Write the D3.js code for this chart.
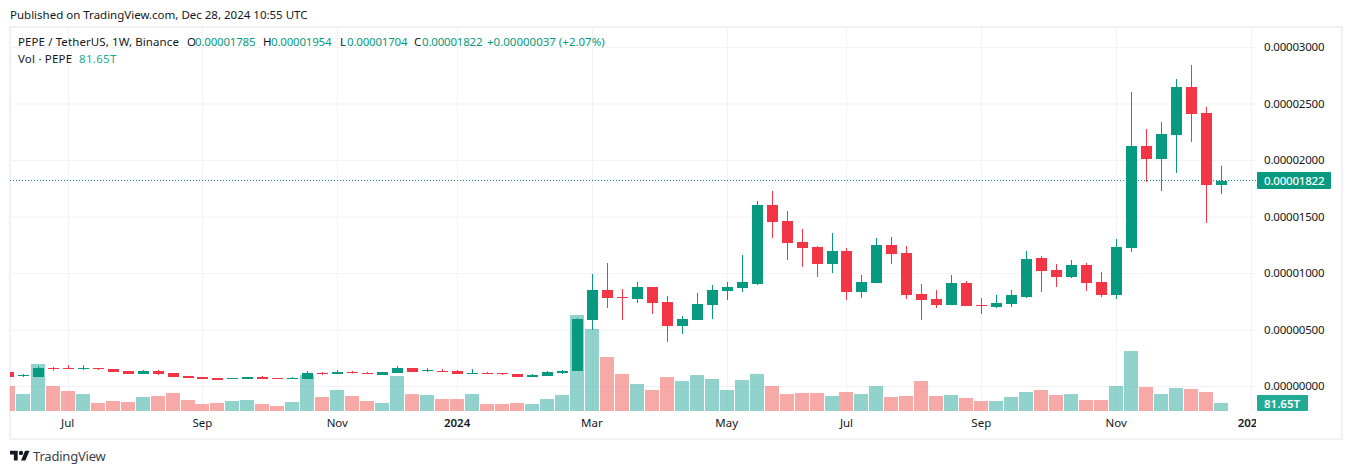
<!DOCTYPE html>
<html>
<head>
<meta charset="utf-8">
<script src="https://cdn.jsdelivr.net/npm/d3@7"></script>
<style>
  html, body { margin: 0; padding: 0; background: #fff; overflow: hidden; }
  text { font-family: "Noto Sans", sans-serif; }
</style>
</head>
<body>
<svg id="chart" width="1352" height="474"></svg>
<script>
// weekly candles, prices in units of 0.00000001
const opens = [128,100,87,164,164,155,164,155,137,111,137,119,93,84,75,66,66,84,75,66,66,119,111,128,119,102,119,164,137,137,137,111,119,119,111,84,93,119,137,588,854,792,774,881,748,535,588,721,845,872,907,1606,1465,1279,1235,1084,1199,836,916,1252,1181,819,774,721,916,721,704,730,792,1137,1031,969,1075,925,810,1226,2128,2013,2226,2651,2420,1785];
const highs = [128,111,181,173,190,188,164,155,137,146,146,119,93,84,75,72,84,93,75,84,137,128,146,137,128,128,181,164,164,155,146,155,128,119,111,111,137,146,606,996,1093,863,925,881,801,624,827,898,925,1164,1642,1730,1553,1394,1243,1358,1226,987,1314,1323,1243,907,854,987,934,783,810,854,1199,1155,1084,1119,1093,1013,1305,2606,2279,2341,2721,2845,2473,1954];
const lows = [84,84,84,140,158,146,146,128,111,111,102,84,75,66,58,66,66,66,68,66,66,102,111,115,111,102,119,128,128,130,111,111,111,102,84,84,93,111,137,500,695,588,739,642,394,465,588,597,765,836,898,1314,1119,1058,969,1004,765,783,916,1084,774,588,695,721,712,642,695,704,783,836,881,960,845,792,774,1190,1810,1730,1889,2164,1447,1704];
const closes = [84,102,164,155,158,164,155,128,111,137,111,84,75,66,58,72,84,66,68,75,119,111,128,120,111,128,164,128,146,130,111,119,111,111,84,102,128,137,597,854,783,783,881,739,535,597,730,854,881,925,1606,1456,1270,1226,1084,1199,836,925,1252,1173,810,765,721,916,712,712,739,810,1128,1022,969,1075,916,810,1235,2128,2013,2235,2651,2412,1783,1822];
// volume in trillions
const volumes = [255,173,480,255,204,173,82,102,92,143,153,184,112,71,82,102,112,71,51,92,367,143,214,153,102,82,357,173,163,122,122,173,71,71,82,71,122,163,980,837,551,378,276,214,347,306,367,327,214,316,378,255,173,184,184,153,194,173,255,143,153,306,153,163,133,102,102,143,194,214,163,173,112,112,255,612,245,173,235,225,194,82];

const priceTicks = [0,500,1000,1500,2000,2500,3000];
const timeLabels = ["Jul","Sep","Nov","2024","Mar","May","Jul","Sep","Nov","2025"];
const timeBars = [4,13,22,30,39,48,56,65,74,83];
const lastClose = 1822;
const lastVolume = "81.65T";

const upColor = "#089981", downColor = "#f23645";
const gridColor = "#f2f3f6", textColor = "#131722";
const svg = d3.select("#chart");

const x = d3.scaleLinear().domain([0, 81]).range([8.3, 1221.4]);
const y = d3.scaleLinear().domain([0, 3000]).range([386.5, 47.5]);
const yVol = d3.scaleLinear().domain([0, 1000]).range([411, 313]);
const px = i => Math.floor(x(i)) + 0.5;

svg.append("defs").append("clipPath").attr("id", "plot")
  .append("rect").attr("x", 10).attr("y", 28).attr("width", 1246).attr("height", 410);

// outer frame
svg.append("rect").attr("x", 10).attr("y", 27).attr("width", 1332).attr("height", 412)
  .attr("fill", "none").attr("stroke", "#f0f0f5").attr("stroke-width", 2);

const plot = svg.append("g").attr("clip-path", "url(#plot)");

// grid
plot.selectAll(".hgrid").data(priceTicks).join("line")
  .attr("x1", 10).attr("x2", 1256)
  .attr("y1", d => y(d)).attr("y2", d => y(d))
  .attr("stroke", gridColor);
plot.selectAll(".vgrid").data(timeBars).join("line")
  .attr("x1", d => px(d)).attr("x2", d => px(d))
  .attr("y1", 28).attr("y2", 411)
  .attr("stroke", gridColor);

// volume
plot.selectAll(".vol").data(volumes).join("rect")
  .attr("x", (d, i) => px(i) - 7.5)
  .attr("width", 14)
  .attr("y", d => yVol(d))
  .attr("height", d => 411 - yVol(d))
  .attr("fill", (d, i) => closes[i] >= opens[i] ? "rgba(38,166,154,0.5)" : "rgba(239,83,80,0.5)");

// last price line
plot.append("line")
  .attr("x1", 10).attr("x2", 1256)
  .attr("y1", Math.floor(y(lastClose)) + 0.5).attr("y2", Math.floor(y(lastClose)) + 0.5)
  .attr("stroke", upColor).attr("stroke-dasharray", "1 2").attr("shape-rendering", "crispEdges");

// candles
const candle = plot.selectAll(".candle").data(opens).join("g");
candle.append("line")
  .attr("x1", (d, i) => px(i)).attr("x2", (d, i) => px(i))
  .attr("y1", (d, i) => y(highs[i])).attr("y2", (d, i) => y(lows[i]))
  .attr("stroke", (d, i) => closes[i] >= opens[i] ? upColor : downColor);
candle.append("rect")
  .attr("x", (d, i) => px(i) - 5.5)
  .attr("width", 11)
  .attr("y", (d, i) => Math.round(y(Math.max(opens[i], closes[i]))))
  .attr("height", (d, i) => Math.max(1, Math.round(Math.abs(y(opens[i]) - y(closes[i])))))
  .attr("fill", (d, i) => closes[i] >= opens[i] ? upColor : downColor);

// price axis
const yAxis = d3.axisRight(y).tickValues(priceTicks).tickSize(0).tickPadding(0)
  .tickFormat(d => (d / 1e8).toFixed(8));
const yg = svg.append("g").attr("transform", "translate(1264,-0.5)").call(yAxis);
yg.select(".domain").remove();
yg.selectAll("text").attr("font-size", 11.5).attr("letter-spacing", -0.2).attr("fill", textColor);

// time axis
const timeAxis = d3.axisBottom(x).tickValues(timeBars).tickSize(0).tickPadding(0)
  .tickFormat((d, i) => timeLabels[i]);
const tg = plot.append("g").attr("transform", "translate(-1,419)").call(timeAxis);
tg.select(".domain").remove();
tg.selectAll("text").attr("font-size", 11.5).attr("fill", textColor)
  .attr("font-weight", (d, i) => /^20/.test(timeLabels[i]) ? 600 : 400);

// price and volume tags
svg.append("rect").attr("x", 1257).attr("y", 172).attr("width", 74).attr("height", 17).attr("rx", 1).attr("fill", upColor);
svg.append("text").attr("x", 1264).attr("y", 185).attr("font-size", 11.5).attr("letter-spacing", -0.2).attr("font-weight", 500).attr("fill", "#fff")
  .text((lastClose / 1e8).toFixed(8));
svg.append("rect").attr("x", 1257).attr("y", 395).attr("width", 51).attr("height", 16).attr("rx", 1).attr("fill", "#22ab94");
svg.append("text").attr("x", 1264).attr("y", 407.5).attr("font-size", 11.5).attr("font-weight", 600).attr("fill", "#fff")
  .text(lastVolume);

// legend
const legend = [
  [18, 46, "PEPE / TetherUS, 1W, Binance", textColor, 0.1],
  [187, 46, "O", textColor, 0], [195, 46, "0.00001785", upColor, -0.2],
  [263, 46, "H", textColor, 0], [271, 46, "0.00001954", upColor, -0.2],
  [340, 46, "L", textColor, 0], [347, 46, "0.00001704", upColor, -0.2],
  [414, 46, "C", textColor, 0], [422, 46, "0.00001822", upColor, -0.2],
  [487, 46, "+0.00000037 (+2.07%)", upColor, 0],
  [18, 63, "Vol · PEPE", textColor, 0.2], [79, 63, lastVolume, "#22ab94", 0.3]
];
svg.selectAll(".legend").data(legend).join("text")
  .attr("x", d => d[0]).attr("y", d => d[1])
  .attr("font-size", 11.5).attr("letter-spacing", d => d[4]).attr("fill", d => d[3])
  .text(d => d[2]);

svg.append("text").attr("x", 10).attr("y", 19).attr("font-size", 11.5).attr("fill", textColor)
  .text("Published on TradingView.com, Dec 28, 2024 10:55 UTC");

// footer logo
const logo = svg.append("g").attr("transform", "translate(10,448.5) scale(0.55)").attr("fill", "#131722");
logo.append("path").attr("d", "M14 22H7V11H0V4h14v18zM28 22h-8l7.5-18h8L28 22z");
logo.append("circle").attr("cx", 20).attr("cy", 8).attr("r", 4);
svg.append("text").attr("x", 33).attr("y", 461).attr("font-size", 13).attr("letter-spacing", -0.2).attr("fill", "#3b3f4a").text("TradingView");
</script>
</body>
</html>
